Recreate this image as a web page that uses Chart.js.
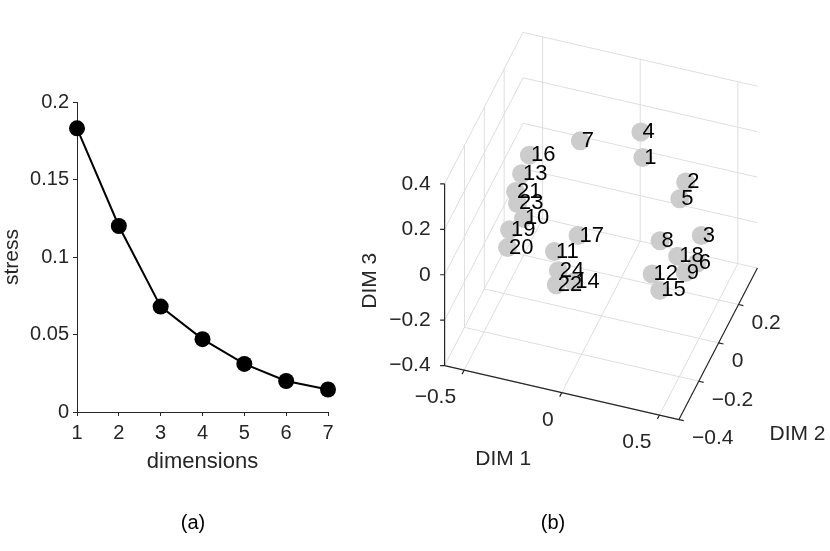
<!DOCTYPE html>
<html>
<head>
<meta charset="utf-8">
<title>stress and MDS configuration</title>
<script src="https://cdn.jsdelivr.net/npm/chart.js@4.4.1/dist/chart.umd.min.js"></script>
<style>
  html, body { margin: 0; padding: 0; background: #fff; }
  #wrap { position: relative; width: 830px; height: 551px; overflow: hidden; }
  canvas { position: absolute; top: 0; }
  #left { left: 0; width: 400px; height: 551px; }
  #right { left: 340px; width: 490px; height: 551px; }
  .cap { position: absolute; top: 511px; font: 20px "Liberation Sans", Arial, sans-serif; color: #000; transform: translateX(-50%); }
</style>
</head>
<body>
<div id="wrap">
  <canvas id="left" width="400" height="551"></canvas>
  <canvas id="right" width="490" height="551"></canvas>
  <div class="cap" style="left:193px">(a)</div>
  <div class="cap" style="left:553px">(b)</div>
</div>
<script>
// (a) stress per number of dimensions
const dims = [1, 2, 3, 4, 5, 6, 7]
const stress = [0.183, 0.120, 0.068, 0.047, 0.031, 0.020, 0.0145]
const stressTicks = [0, 0.05, 0.1, 0.15, 0.2]

// (b) 3-D configuration, one entry per labelled item
const itemIds = [1, 2, 3, 4, 5, 6, 7, 8, 9, 10, 11, 12, 13, 14, 15, 16, 17, 18, 19, 20, 21, 22, 23, 24]
const dim1 = [0.11, 0.38, 0.46, 0.10, 0.35, 0.49, -0.21, 0.30, 0.48, -0.40, -0.19, 0.31,
  -0.46, -0.04, 0.40, -0.42, -0.12, 0.39, -0.42, -0.43, -0.44, -0.13, -0.43, -0.17]
const dim2 = [0.2, 0.1, 0.1, 0.2, 0.1, 0.0, 0.2, 0.0, -0.1, 0.0, -0.1, -0.1,
  0.1, -0.2, -0.2, 0.1, 0.0, 0.0, -0.1, -0.1, 0.0, -0.2, 0.0, -0.1]
const dim3 = [0.15, 0.18, -0.04, 0.26, 0.10, -0.07, 0.16, -0.01, -0.03, -0.05, -0.07, -0.07,
  0.05, -0.09, -0.04, 0.14, -0.07, -0.06, -0.02, -0.10, 0.06, -0.12, 0.01, -0.15]
const dim1Ticks = [-0.5, 0, 0.5]
const dim2Ticks = [-0.4, -0.2, 0, 0.2]
const dim3Ticks = [-0.4, -0.2, 0, 0.2, 0.4]
const dim1Lim = [-0.6, 0.6]
const dim2Lim = [-0.4, 0.39]
const dim3Lim = [-0.4, 0.4]

const FONT = '"Liberation Sans", Arial, Helvetica, sans-serif'
const AXIS = '#262626'
const GRID = '#dedede'

// fixed camera: screen offset of the origin and of one unit along each dim
const view = { ox: 601.5, oy: 225, ex: [195.3, 44.9], ey: [99.3, -191.75], ez: [0, -227.3] }

function project(X, Y, Z) {
  return {
    x: view.ox + X * view.ex[0] + Y * view.ey[0] + Z * view.ez[0],
    y: view.oy + X * view.ex[1] + Y * view.ey[1] + Z * view.ez[1],
  }
}

// tick text, with a real minus sign like the original
const fmt = (v) => (v < 0 ? "\u2212" : "") + String(Math.abs(v))

// left panel
new Chart(document.getElementById("left"), {
  type: "line",
  data: {
    datasets: [{
      data: dims.map((d, i) => ({ x: d, y: stress[i] })),
      borderColor: "#000",
      borderWidth: 2,
      pointRadius: 8,
      pointHoverRadius: 8,
      pointBackgroundColor: "#000",
      pointBorderWidth: 0,
      tension: 0,
      clip: false,
    }],
  },
  options: {
    responsive: false,
    animation: false,
    events: [],
    layout: { padding: { top: 102, right: 72, bottom: 0, left: 0 } },
    plugins: { legend: { display: false }, tooltip: { enabled: false } },
    scales: {
      x: {
        type: "linear", min: 1, max: 7,
        afterBuildTicks: (s) => { s.ticks = dims.map((v) => ({ value: v })) },
        afterFit: (s) => { s.height = 139 },
        grid: { drawOnChartArea: false, drawTicks: true, tickLength: 4, color: AXIS },
        border: { color: AXIS, width: 1 },
        ticks: { color: AXIS, font: { family: FONT, size: 20 }, padding: 5, maxRotation: 0 },
        title: { display: true, text: "dimensions", color: AXIS, font: { family: FONT, size: 22 }, padding: { top: 0, bottom: 76 } },
      },
      y: {
        type: "linear", min: 0, max: 0.2,
        afterBuildTicks: (s) => { s.ticks = stressTicks.map((v) => ({ value: v })) },
        afterFit: (s) => { s.width = 77 },
        grid: { drawOnChartArea: false, drawTicks: true, tickLength: 4, color: AXIS },
        border: { color: AXIS, width: 1 },
        ticks: { color: AXIS, font: { family: FONT, size: 20 }, padding: 4, callback: (v) => fmt(v) },
        title: { display: true, text: "stress", color: AXIS, font: { family: FONT, size: 21 }, padding: { top: 0, bottom: 0 } },
      },
    },
  },
})

// walls, axes and labels of the 3-D box
const box3d = {
  id: "box3d",
  beforeDatasetsDraw(chart) {
    const ctx = chart.ctx
    const sx = chart.scales.x, sy = chart.scales.y
    const px = (X, Y, Z) => {
      const p = project(X, Y, Z)
      return [sx.getPixelForValue(p.x), sy.getPixelForValue(p.y)]
    }
    const seg = (a, b) => {
      const p = px(...a), q = px(...b)
      ctx.moveTo(p[0], p[1])
      ctx.lineTo(q[0], q[1])
    }
    const [x0, x1] = dim1Lim, [y0, y1] = dim2Lim, [z0, z1] = dim3Lim

    ctx.save()
    // grid on floor, back wall and left wall
    ctx.beginPath()
    ctx.strokeStyle = GRID
    ctx.lineWidth = 1
    dim1Ticks.forEach((X) => { seg([X, y0, z0], [X, y1, z0]); seg([X, y1, z0], [X, y1, z1]) })
    dim2Ticks.forEach((Y) => { seg([x0, Y, z0], [x1, Y, z0]); seg([x0, Y, z0], [x0, Y, z1]) })
    dim3Ticks.forEach((Z) => { seg([x0, y1, Z], [x1, y1, Z]); seg([x0, y0, Z], [x0, y1, Z]) })
    ctx.stroke()

    // axis lines and tick marks
    ctx.beginPath()
    ctx.strokeStyle = AXIS
    ctx.lineWidth = 1.2
    seg([x0, y0, z0], [x1, y0, z0])
    seg([x1, y0, z0], [x1, y1, z0])
    seg([x0, y0, z0], [x0, y0, z1])
    const eyLen = Math.hypot(view.ey[0], view.ey[1])
    const exLen = Math.hypot(view.ex[0], view.ex[1])
    dim1Ticks.forEach((X) => {
      const p = px(X, y0, z0)
      ctx.moveTo(p[0], p[1])
      ctx.lineTo(p[0] - 4.5 * view.ey[0] / eyLen, p[1] - 4.5 * view.ey[1] / eyLen)
    })
    dim2Ticks.forEach((Y) => {
      const p = px(x1, Y, z0)
      ctx.moveTo(p[0], p[1])
      ctx.lineTo(p[0] + 5 * view.ex[0] / exLen, p[1] + 5 * view.ex[1] / exLen)
    })
    dim3Ticks.forEach((Z) => {
      const p = px(x0, y0, Z)
      ctx.moveTo(p[0], p[1])
      ctx.lineTo(p[0] - 4.5, p[1])
    })
    ctx.stroke()

    // tick labels
    ctx.fillStyle = AXIS
    ctx.font = "21px " + FONT
    ctx.textBaseline = "middle"
    ctx.textAlign = "right"
    dim1Ticks.forEach((X) => { const p = px(X, y0, z0); ctx.fillText(fmt(X), p[0] - 8, p[1] + 27.5) })
    dim3Ticks.forEach((Z) => { const p = px(x0, y0, Z); ctx.fillText(fmt(Z), p[0] - 14, p[1]) })
    ctx.textAlign = "left"
    dim2Ticks.forEach((Y) => { const p = px(x1, Y, z0); ctx.fillText(fmt(Y), p[0] + 13, p[1] + 18.5) })

    // axis titles
    ctx.textAlign = "center"
    let p = px(0, y0, z0)
    ctx.fillText("DIM 1", p[0] - 58.5, p[1] + 66.4)
    p = px(x1, 0, z0)
    ctx.fillText("DIM 2", p[0] + 78.8, p[1] + 91.2)
    p = px(x0, y0, 0)
    ctx.translate(p[0] - 74.6, p[1] + 6)
    ctx.rotate(-Math.PI / 2)
    ctx.fillText("DIM 3", 0, 0)
    ctx.restore()
  },
  afterDatasetsDraw(chart) {
    const ctx = chart.ctx
    const meta = chart.getDatasetMeta(0)
    ctx.save()
    ctx.fillStyle = "#000"
    ctx.font = "22px " + FONT
    ctx.textAlign = "left"
    ctx.textBaseline = "middle"
    meta.data.forEach((el, i) => ctx.fillText(String(itemIds[i]), el.x + 1.5, el.y))
    ctx.restore()
  },
}

// right panel; the x/y scales run in page pixels so the camera numbers above apply directly
new Chart(document.getElementById("right"), {
  type: "scatter",
  data: {
    datasets: [{
      data: itemIds.map((_, i) => project(dim1[i], dim2[i], dim3[i])),
      backgroundColor: "#cccccc",
      borderWidth: 0,
      pointRadius: 9.5,
      pointHoverRadius: 9.5,
      clip: false,
    }],
  },
  options: {
    responsive: false,
    animation: false,
    events: [],
    layout: { padding: 0, autoPadding: false },
    plugins: { legend: { display: false }, tooltip: { enabled: false } },
    scales: {
      x: { type: "linear", min: 340, max: 830, display: false },
      y: { type: "linear", min: 0, max: 551, reverse: true, display: false },
    },
  },
  plugins: [box3d],
})
</script>
</body>
</html>
